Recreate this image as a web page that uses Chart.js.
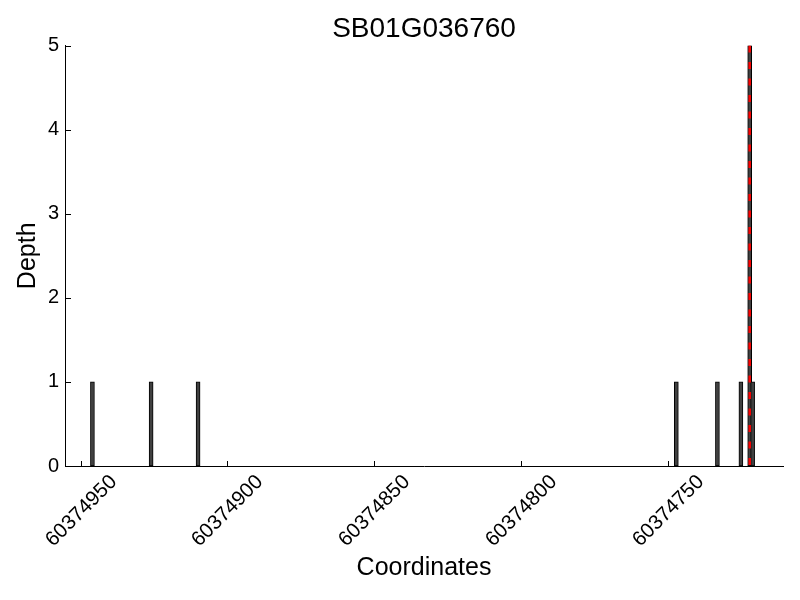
<!DOCTYPE html>
<html>
<head>
<meta charset="utf-8">
<script src="https://cdn.jsdelivr.net/npm/chart.js@4.4.1/dist/chart.umd.min.js"></script>
<style>
  html, body { margin: 0; padding: 0; background: #fff; }
  #wrap { width: 800px; height: 600px; }
</style>
</head>
<body>
<div id="wrap"><canvas id="c" width="800" height="600"></canvas></div>
<script>
// ---- data ----
const TITLE = "SB01G036760";
const X_LABEL = "Coordinates";
const Y_LABEL = "Depth";
const COORDS = [60374946, 60374926, 60374910, 60374747, 60374733, 60374725, 60374722, 60374721];
const DEPTHS = [1, 1, 1, 1, 1, 1, 5, 1];
const MARKER_X = 60374722;          // red dashed marker position
const MARKER_Y = [5, 0];
const X_TICKS = [60374950, 60374900, 60374850, 60374800, 60374750];
const Y_TICKS = [0, 1, 2, 3, 4, 5];
const X_RANGE = [60374710.65, 60374955.35];

const FONT = '"Liberation Sans", Arial, Helvetica, sans-serif';

const inwardTicksAndLabels = {
  id: 'inwardTicksAndLabels',
  afterDraw(chart) {
    const ctx = chart.ctx;
    const xs = chart.scales.x, ys = chart.scales.y;
    const area = chart.chartArea;
    ctx.save();
    ctx.strokeStyle = '#000';
    ctx.lineWidth = 1;
    // x ticks (inward) + rotated centered labels
    X_TICKS.forEach(v => {
      const px = Math.round(xs.getPixelForValue(v)) + 0.5;
      ctx.beginPath();
      ctx.moveTo(px, area.bottom);
      ctx.lineTo(px, area.bottom - 5);
      ctx.stroke();
      ctx.save();
      ctx.translate(px, area.bottom + 45);
      ctx.rotate(-Math.PI / 4);
      ctx.fillStyle = '#000';
      ctx.font = '20.5px ' + FONT;
      ctx.textAlign = 'center';
      ctx.textBaseline = 'middle';
      ctx.fillText(String(v), 0, 0);
      ctx.restore();
    });
    // y ticks (inward)
    Y_TICKS.forEach(v => {
      const py = Math.round(ys.getPixelForValue(v)) + 0.5;
      ctx.beginPath();
      ctx.moveTo(area.left, py);
      ctx.lineTo(area.left + 6, py);
      ctx.stroke();
    });
    ctx.restore();
  }
};

new Chart(document.getElementById('c'), {
  type: 'bar',
  data: {
    datasets: [
      {
        type: 'line',
        data: MARKER_Y.map(y => ({ x: MARKER_X, y })),
        borderColor: '#ff0000',
        borderWidth: 2.5,
        borderDash: [7, 9.5],
        pointRadius: 0,
        fill: false,
        order: 0
      },
      {
        type: 'bar',
        data: COORDS.map((x, i) => ({ x, y: DEPTHS[i] })),
        backgroundColor: '#404040',
        borderColor: '#000000',
        borderWidth: 1,
        borderSkipped: false,
        barThickness: 4,
        order: 1
      }
    ]
  },
  plugins: [inwardTicksAndLabels],
  options: {
    responsive: false,
    animation: false,
    events: [],
    layout: { padding: { left: 0, right: 17, top: 0, bottom: 0 } },
    plugins: {
      legend: { display: false },
      tooltip: { enabled: false },
      title: {
        display: true,
        text: TITLE,
        color: '#000',
        fullSize: false,
        font: { family: FONT, size: 28, weight: 'normal', lineHeight: 1.2 },
        padding: { top: 12, bottom: 0 }
      }
    },
    scales: {
      x: {
        type: 'linear',
        reverse: true,
        offset: false,
        min: X_RANGE[0],
        max: X_RANGE[1],
        afterBuildTicks: s => { s.ticks = X_TICKS.map(v => ({ value: v })); },
        afterFit: s => { s.height = 134; },
        grid: { display: false, drawTicks: false, tickLength: 0 },
        border: { display: true, color: '#000', width: 1 },
        ticks: { display: false },
        title: {
          display: true,
          text: X_LABEL,
          color: '#000',
          font: { family: FONT, size: 25, lineHeight: 1.2 },
          padding: { top: 0, bottom: 17 }
        }
      },
      y: {
        type: 'linear',
        min: 0,
        max: 5,
        afterBuildTicks: s => { s.ticks = Y_TICKS.map(v => ({ value: v })); },
        afterFit: s => { s.width = 65; },
        grid: { display: false, drawTicks: false, tickLength: 0 },
        border: { display: true, color: '#000', width: 1 },
        ticks: {
          color: '#000',
          padding: 6,
          font: { family: FONT, size: 20 },
          callback: v => String(v)
        },
        title: {
          display: true,
          text: Y_LABEL,
          color: '#000',
          font: { family: FONT, size: 25, lineHeight: 1.2 },
          padding: { top: 13, bottom: 0 }
        }
      }
    }
  }
});
</script>
</body>
</html>
